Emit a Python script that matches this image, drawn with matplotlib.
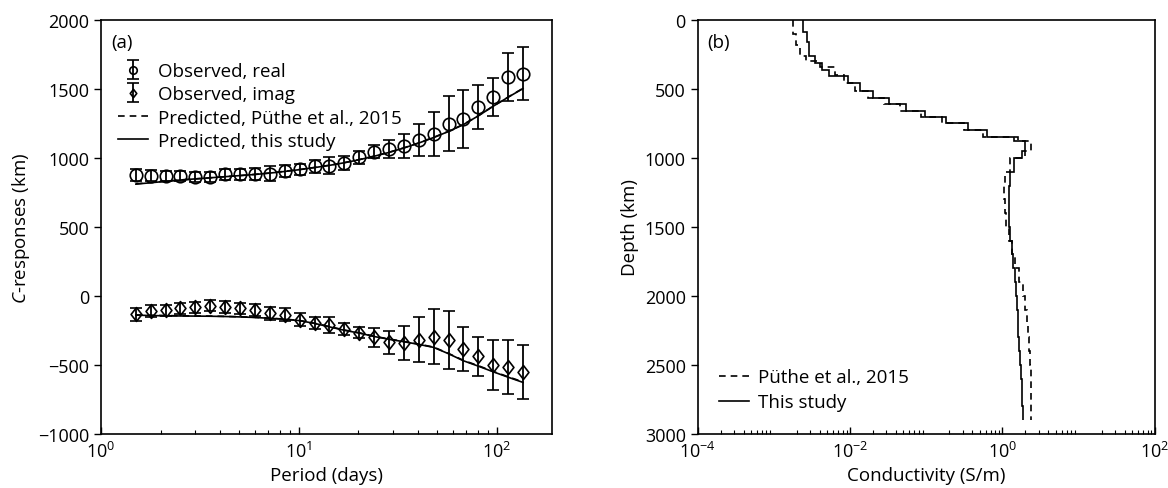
import numpy as np
import matplotlib
matplotlib.use("Agg")
import matplotlib.pyplot as plt
from matplotlib.path import Path

plt.rcParams['font.family'] = ['Open Sans', 'DejaVu Sans']
plt.rcParams['mathtext.fontset'] = 'custom'
plt.rcParams['mathtext.rm'] = 'Open Sans'
plt.rcParams['mathtext.it'] = 'Open Sans:italic'
plt.rcParams['font.size'] = 13

# ---------------- panel (a) data ----------------
period = [1.50, 1.78, 2.12, 2.52, 3.00, 3.57, 4.24, 5.04, 6.00, 7.14, 8.49, 10.09,
          12.0, 14.27, 16.97, 20.18, 24.0, 28.54, 33.94, 40.36, 48.0, 57.08, 67.88,
          80.73, 96.0, 114.16, 135.76]
obs_real = [875, 872, 870, 870, 860, 860, 880, 882, 885, 885, 906, 918,
            940, 945, 962, 1005, 1046, 1063, 1087, 1131, 1172, 1249, 1280,
            1370, 1442, 1587, 1612]
err_real = [42, 40, 38, 38, 35, 35, 38, 40, 42, 55, 45, 40,
            46, 64, 50, 48, 48, 65, 89, 118, 160, 199, 210, 160, 140, 177, 192]
obs_imag = [-133, -109, -104, -89, -84, -72, -80, -91, -104, -128, -138, -174,
            -200, -212, -241, -266, -302, -338, -343, -319, -295, -319, -386,
            -440, -500, -514, -551]
err_imag = [48, 42, 40, 40, 40, 40, 42, 42, 44, 46, 48, 48,
            44, 60, 44, 40, 68, 85, 121, 163, 200, 210, 160, 143, 181, 196, 195]
pred_real_this = [810, 820, 830, 840, 848, 856, 864, 872, 880, 890, 902, 915,
                  930, 946, 965, 987, 1012, 1040, 1072, 1108, 1148, 1192, 1242,
                  1305, 1375, 1440, 1503]
pred_real_puthe = [812, 822, 831, 840, 848, 856, 864, 872, 881, 891, 903, 916,
                   931, 947, 966, 988, 1013, 1041, 1073, 1109, 1149, 1193, 1243,
                   1306, 1376, 1441, 1505]
pred_imag_this = [-140, -143, -145, -146, -147, -148, -150, -153, -157, -163, -170, -180,
                  -200, -225, -250, -270, -295, -315, -333, -352, -374, -420, -471,
                  -510, -551, -590, -628]
pred_imag_puthe = [-138, -141, -143, -145, -146, -147, -149, -152, -156, -162, -169, -179,
                   -199, -223, -248, -268, -293, -313, -331, -350, -372, -418, -468,
                   -507, -548, -587, -624]

# ---------------- panel (b) data ----------------
depth_edges_this = [0, 90, 160, 260, 312, 361, 405, 458, 514, 562, 610, 659, 703, 749,
                    800, 850, 880, 950, 1000, 1100, 1200, 1300, 1400, 1500, 1600,
                    1700, 1800, 1900, 2000, 2100, 2200, 2300, 2400, 2500, 2600, 2700,
                    2800, 2900]
log_sigma_this = [-2.614, -2.57, -2.535, -2.461, -2.365, -2.273, -2.024, -1.870, -1.695,
                  -1.494, -1.270, -1.017, -0.741, -0.45, -0.2, 0.15, 0.30, 0.25, 0.15,
                  0.10, 0.08, 0.08, 0.09, 0.10, 0.12, 0.14, 0.16, 0.18, 0.19, 0.20,
                  0.21, 0.22, 0.23, 0.24, 0.25, 0.26, 0.27]
depth_edges_puthe = [0, 100, 180, 260, 300, 340, 400, 458, 514, 562, 610, 659, 703, 749,
                     800, 850, 880, 950, 1000, 1100, 1200, 1300, 1400, 1500, 1600,
                     1700, 1800, 1900, 2000, 2100, 2200, 2300, 2400, 2500, 2600, 2700,
                     2800, 2900]
log_sigma_puthe = [-2.754, -2.71, -2.66, -2.58, -2.40, -2.20, -2.08, -1.93, -1.76,
                   -1.55, -1.35, -1.07, -0.80, -0.5, -0.25, 0.20, 0.38, 0.30, 0.10,
                   0.03, 0.02, 0.03, 0.05, 0.08, 0.12, 0.17, 0.22, 0.27, 0.30, 0.32,
                   0.34, 0.35, 0.36, 0.37, 0.37, 0.38, 0.38]

fig = plt.figure(figsize=(11.68, 4.89), dpi=100)
ax1 = fig.add_axes([0.0865, 0.111, 0.386, 0.846])
ax2 = fig.add_axes([0.5973, 0.111, 0.3915, 0.846])

diamond = Path([(0, 1), (0.78, 0), (0, -1), (-0.78, 0), (0, 1)],
               [Path.MOVETO, Path.LINETO, Path.LINETO, Path.LINETO, Path.CLOSEPOLY])

# ----- panel (a)
eb_kw = dict(color='black', ecolor='black', elinewidth=1.3, capsize=4.5, capthick=1.3,
             linestyle='none', markerfacecolor='none', markeredgecolor='black',
             markeredgewidth=1.2)
h1 = ax1.errorbar(period, obs_real, yerr=err_real, marker='o', markersize=9, **eb_kw)
h2 = ax1.errorbar(period, obs_imag, yerr=err_imag, marker=diamond, markersize=10, **eb_kw)
h3, = ax1.plot(period, pred_real_puthe, color='black', linestyle=(0, (4, 3)), lw=1.2)
ax1.plot(period, pred_imag_puthe, color='black', linestyle=(0, (4, 3)), lw=1.2)
h4, = ax1.plot(period, pred_real_this, color='black', linestyle='-', lw=1.2)
ax1.plot(period, pred_imag_this, color='black', linestyle='-', lw=1.2)

ax1.set_xscale('log')
ax1.set_xlim(1, 190)
ax1.set_ylim(-1000, 2000)
ax1.set_yticks([-1000, -500, 0, 500, 1000, 1500, 2000])
ax1.set_yticklabels(['\u22121000', '\u2212500', '0', '500', '1000', '1500', '2000'])
ax1.set_xlabel('Period (days)', fontsize=13.5)
ax1.set_ylabel(r'$C$-responses (km)', fontsize=13.5)
ax1.text(0.022, 0.968, '(a)', transform=ax1.transAxes, fontsize=13.5, va='top', ha='left')
leg1 = ax1.legend([h1, h2, h3, h4],
                  ['Observed, real', 'Observed, imag', 'Predicted, P\u00fcthe et al., 2015',
                   'Predicted, this study'],
                  loc='upper left', bbox_to_anchor=(0.009, 0.93), frameon=False,
                  fontsize=13.5, handlelength=1.6, handletextpad=0.5, labelspacing=0.28,
                  borderaxespad=0.3, markerscale=0.6)

# ----- panel (b)
sig_puthe = [10 ** v for v in log_sigma_puthe]
sig_this = [10 ** v for v in log_sigma_this]
ax2.stairs(sig_puthe, depth_edges_puthe, orientation='horizontal', baseline=None,
           color='black', linestyle=(0, (4, 3)), lw=1.2, label='P\u00fcthe et al., 2015')
ax2.stairs(sig_this, depth_edges_this, orientation='horizontal', baseline=None,
           color='black', linestyle='-', lw=1.2, label='This study')
ax2.set_xscale('log')
ax2.set_xlim(1e-4, 1e2)
ax2.set_ylim(3000, 0)
ax2.set_yticks([0, 500, 1000, 1500, 2000, 2500, 3000])
ax2.set_xticks([1e-4, 1e-2, 1e0, 1e2])
ax2.set_xlabel('Conductivity (S/m)', fontsize=13.5)
ax2.set_ylabel('Depth (km)', fontsize=13.5)
ax2.text(0.022, 0.968, '(b)', transform=ax2.transAxes, fontsize=13.5, va='top', ha='left')
ax2.legend(loc='lower left', bbox_to_anchor=(0.009, 0.013), frameon=False, fontsize=13.5,
           handlelength=1.6, handletextpad=0.5, labelspacing=0.38)

for ax in (ax1, ax2):
    ax.tick_params(axis='x', which='major', direction='in', length=5, width=1,
                   labelsize=13, pad=5)
    ax.tick_params(axis='x', which='minor', direction='in', length=3, width=0.8)
    ax.tick_params(axis='y', which='major', direction='out', length=5, width=1,
                   labelsize=13)
    for s in ax.spines.values():
        s.set_linewidth(1.2)

fig.savefig('out.png', dpi=100)
